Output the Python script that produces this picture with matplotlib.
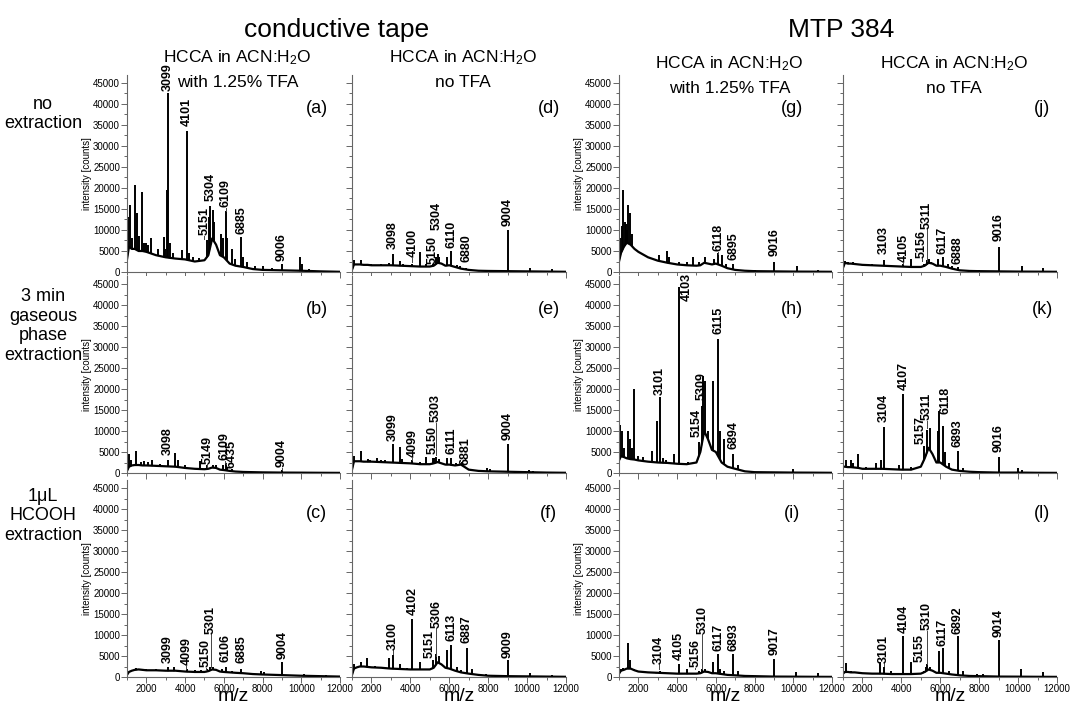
from __future__ import annotations

from typing import List, Optional, Tuple

import matplotlib
matplotlib.use("Agg")
import matplotlib.pyplot as plt
from matplotlib.ticker import MultipleLocator

plt.rcParams.update({
    "font.family": ["Liberation Sans", "DejaVu Sans"],
    "mathtext.fontset": "custom",
    "mathtext.rm": "Liberation Sans",
    "mathtext.it": "Liberation Sans:italic",
    "mathtext.default": "regular",
})

Peak = Tuple[int, int]
Label = Tuple[str, int, int, Optional[int]]

# m/z grid for the smooth background of every spectrum
BASE_MZ = [1000, 1100, 1250, 1400, 1600, 1800, 2000, 2500, 3000, 3500, 4000, 4500, 5000,
           5200, 5400, 5600, 5800, 6000, 6300, 6600, 7000, 7500, 8000, 9000, 10000, 11000, 12000]

# ---- conductive tape, HCCA with 1.25% TFA ----
A_BASE = [3000, 6000, 5500, 5500, 5000, 5000, 4800, 4000, 3500, 3200, 3000, 2500, 2800,
          4000, 8000, 6500, 4000, 3500, 2000, 1500, 1200, 700, 500, 400, 300, 150, 50]
A_PEAKS: List[Peak] = [(1000, 22500), (1060, 13000), (1140, 16000), (1250, 8000), (1430, 20800),
                       (1520, 14000), (1600, 8500), (1770, 19000), (1900, 7000), (2000, 6800),
                       (2100, 6500), (2250, 8000), (2600, 5500), (2890, 8300), (2980, 5500),
                       (3060, 19500), (3099, 42500), (3200, 7000), (3400, 4500), (3830, 5200),
                       (4101, 33500), (4200, 4500), (4400, 3500), (4700, 3300), (5151, 7500),
                       (5250, 13000), (5304, 15800), (5420, 14700), (5480, 12000), (5860, 9000),
                       (5950, 8000), (6109, 14500), (6170, 8000), (6410, 5500), (6600, 3000),
                       (6885, 8300), (7000, 3500), (7200, 2500), (7600, 1500), (8000, 1500),
                       (8500, 1000), (9006, 1800), (9940, 3500), (10050, 2000), (10400, 800)]
A_LABELS: List[Label] = [("3099", 3099, 43000, None), ("4101", 4101, 34800, None),
                         ("5151", 5000, 8700, 7800), ("5304", 5330, 16800, None),
                         ("6109", 6109, 15500, 14600), ("6885", 6900, 9000, None),
                         ("9006", 9006, 2700, None)]

B_BASE = [500, 1500, 1800, 1900, 1900, 1800, 1800, 1700, 1600, 1500, 1200, 1000, 900,
          1000, 1300, 1200, 800, 700, 500, 350, 250, 200, 150, 100, 80, 50, 30]
B_PEAKS: List[Peak] = [(1120, 4600), (1200, 3000), (1460, 5300), (1700, 2600), (1900, 2800),
                       (2100, 2600), (2300, 3000), (2700, 2200), (3098, 3000), (3470, 4700),
                       (3610, 3000), (4000, 1800), (4780, 2800), (5149, 2000), (5420, 2000),
                       (5600, 1800), (5980, 2000), (6109, 1800), (6190, 1500), (6435, 900),
                       (9004, 700)]
B_LABELS: List[Label] = [("3098", 3098, 4200, None), ("5149", 5149, 2200, 1500),
                         ("6109", 6060, 3000, 2000), ("6435", 6400, 1300, None),
                         ("9004", 9004, 1400, 800)]

C_BASE = [500, 1200, 1500, 1700, 1800, 1700, 1600, 1600, 1500, 1500, 1300, 1200, 1200,
          1400, 1800, 1700, 1300, 1200, 1100, 1000, 900, 700, 600, 450, 300, 200, 100]
C_PEAKS: List[Peak] = [(1450, 2200), (2000, 1900), (2500, 1900), (3099, 2500), (3450, 2500),
                       (4099, 1800), (4500, 1600), (4800, 1600), (5150, 2000), (5301, 2500),
                       (5450, 2500), (5900, 1800), (6106, 2500), (6400, 1500), (6885, 2000),
                       (7900, 1500), (8100, 1100), (9004, 3500), (10150, 800), (11300, 400)]
C_LABELS: List[Label] = [("3099", 3099, 3300, None), ("4099", 4060, 2800, 2000),
                         ("5150", 5080, 2400, 1700), ("5301", 5340, 10300, 2500),
                         ("6106", 6106, 3600, None), ("6885", 6900, 3300, None),
                         ("9004", 9040, 4400, None)]

# ---- conductive tape, HCCA without TFA ----
D_BASE = [500, 1800, 1800, 1800, 1700, 1700, 1600, 1600, 1600, 1500, 1400, 1300, 1300,
          1500, 2200, 2000, 1500, 1600, 1200, 800, 500, 300, 250, 200, 150, 100, 50]
D_PEAKS: List[Peak] = [(1120, 2800), (1460, 2800), (2000, 2000), (2500, 2000), (2900, 2200),
                       (3098, 4300), (3460, 2600), (3600, 2000), (4100, 1800), (4490, 4800),
                       (4800, 1800), (5150, 2000), (5304, 3500), (5400, 4200), (5480, 3500),
                       (5900, 3600), (6110, 5100), (6400, 1600), (6550, 1400), (6880, 1000),
                       (7950, 500), (9004, 10000), (10170, 1000), (11300, 700)]
D_LABELS: List[Label] = [("3098", 3098, 5400, None), ("4100", 4100, 3500, 2500),
                         ("5150", 5150, 1900, None), ("5304", 5350, 10000, None),
                         ("6110", 6110, 5800, None), ("6880", 6880, 2400, None),
                         ("9004", 9004, 11000, None)]

E_BASE = [800, 2800, 2800, 2800, 2700, 2700, 2700, 2600, 2500, 2400, 2300, 2100, 2100,
          2300, 2600, 2300, 2000, 2000, 1800, 2000, 800, 500, 400, 300, 200, 100, 50]
E_PEAKS: List[Peak] = [(1120, 4100), (1460, 5300), (1800, 3300), (1950, 3200), (2260, 3600),
                       (2500, 3000), (2700, 3200), (3099, 7000), (3460, 6200), (3580, 3300),
                       (4099, 3200), (4500, 2700), (4810, 3800), (5150, 3500), (5230, 3600),
                       (5303, 3800), (5470, 3300), (5900, 3500), (6111, 3500), (6330, 2300),
                       (6650, 2600), (7960, 1100), (8100, 900), (9004, 6800), (10100, 800),
                       (10300, 500), (11300, 300)]
E_LABELS: List[Label] = [("3099", 3099, 7700, None), ("4099", 4099, 3800, 3100),
                         ("5150", 5150, 4600, None), ("5303", 5303, 12100, 4300),
                         ("6111", 6111, 4600, None), ("6881", 6850, 2000, None),
                         ("9004", 9004, 7800, None)]

F_BASE = [500, 2000, 2300, 2500, 2500, 2400, 2300, 2200, 2000, 1900, 1800, 1800, 1800,
          2200, 3500, 3000, 2200, 2000, 1500, 1100, 800, 500, 300, 200, 150, 100, 50]
F_PEAKS: List[Peak] = [(1120, 3000), (1460, 3500), (1780, 4600), (2200, 2600), (2600, 2500),
                       (2920, 4500), (3100, 5300), (3450, 3000), (3850, 2200), (4102, 13900),
                       (4510, 3500), (5160, 4000), (5300, 5500), (5450, 5000), (5900, 6500),
                       (6113, 7700), (6400, 2500), (6600, 1600), (6887, 7000), (7150, 2000),
                       (7900, 600), (8200, 500), (9009, 4000), (10150, 900), (11300, 500)]
F_LABELS: List[Label] = [("3100", 3100, 6500, 5400), ("4102", 4102, 14800, None),
                         ("5151", 5000, 4500, None), ("5306", 5330, 11700, 5000),
                         ("6113", 6113, 8500, None), ("6887", 6887, 8100, None),
                         ("9009", 9009, 4500, None)]

# ---- MTP 384, HCCA with 1.25% TFA ----
G_BASE = [2500, 4500, 6000, 7000, 6500, 5500, 4800, 3500, 2700, 2200, 1800, 1600, 1500,
          1600, 2200, 2000, 1800, 2000, 1500, 900, 500, 300, 200, 150, 100, 80, 50]
G_PEAKS: List[Peak] = [(1070, 8000), (1140, 11000), (1220, 19500), (1290, 12000), (1340, 11500),
                       (1420, 10000), (1480, 16000), (1560, 14000), (1650, 9000), (1800, 4500),
                       (1900, 4500), (2000, 4200), (2250, 3000), (2450, 3200), (3080, 4000),
                       (3460, 5000), (3600, 3500), (4110, 2500), (4500, 2300), (4830, 3500),
                       (5120, 2500), (5430, 3500), (5900, 3000), (6118, 4500), (6330, 4000),
                       (6500, 2000), (6895, 2000), (8000, 500), (9016, 2500), (10190, 1500),
                       (11300, 500)]
G_LABELS: List[Label] = [("6118", 6118, 5000, 4300), ("6895", 6895, 2900, None),
                         ("9016", 9016, 3700, None)]

H_BASE = [3000, 4000, 3800, 3500, 3300, 3200, 3000, 2700, 2500, 2400, 2200, 2100, 2500,
          5000, 10000, 8000, 5500, 5000, 2500, 1500, 1000, 400, 200, 150, 100, 80, 50]
H_PEAKS: List[Peak] = [(1050, 11500), (1170, 10000), (1250, 6000), (1450, 10000), (1570, 8000),
                       (1690, 6000), (1790, 20000), (2000, 4000), (2250, 3800), (2730, 5200),
                       (2940, 12500), (3101, 18000), (3250, 3500), (3420, 3200), (3850, 4600),
                       (4103, 44200), (4580, 2700), (5154, 7500), (5280, 16000), (5330, 23000),
                       (5450, 22000), (5610, 10000), (5860, 22000), (6115, 32000), (6200, 10000),
                       (6420, 8000), (6894, 4500), (7150, 2000), (9990, 1000)]
H_LABELS: List[Label] = [("3101", 3101, 18600, None), ("4103", 4520, 41000, None),
                         ("5154", 5000, 8600, None), ("5309", 5260, 17400, None),
                         ("6115", 6115, 33000, None), ("6894", 6894, 5800, None)]

I_BASE = [800, 1500, 1700, 2000, 2000, 1600, 1300, 1100, 1000, 900, 800, 800, 800,
          900, 1300, 1200, 900, 900, 700, 500, 400, 250, 200, 100, 80, 50, 30]
I_PEAKS: List[Peak] = [(1100, 2000), (1200, 2200), (1460, 8100), (1550, 4000), (1760, 2000),
                       (2900, 1200), (3104, 1500), (3450, 1000), (4105, 3000), (4490, 2000),
                       (5156, 1500), (5310, 2000), (5450, 2000), (5860, 3500), (6117, 5400),
                       (6200, 2000), (6400, 1500), (6893, 5500), (7150, 1500), (9017, 4400),
                       (10150, 1200), (11300, 1000)]
I_LABELS: List[Label] = [("3104", 3060, 3200, 2000), ("4105", 4105, 4100, None),
                         ("5156", 4950, 2400, 1800), ("5310", 5300, 10300, 2000),
                         ("6117", 6117, 6300, None), ("6893", 6893, 6300, None),
                         ("9017", 9017, 5200, None)]

# ---- MTP 384, HCCA without TFA ----
J_BASE = [1000, 2200, 2000, 2000, 1900, 1800, 1700, 1600, 1500, 1400, 1300, 1200, 1200,
          1500, 2200, 2000, 1500, 1500, 1200, 800, 400, 250, 200, 150, 100, 80, 50]
J_PEAKS: List[Peak] = [(1100, 2700), (1250, 2500), (1500, 2300), (2000, 2000), (2500, 1900),
                       (3103, 2800), (3450, 1700), (4105, 2000), (4520, 3000), (5156, 2000),
                       (5311, 2800), (5400, 3000), (5500, 2500), (5900, 3000), (6117, 3500),
                       (6400, 2000), (6600, 1500), (6888, 1200), (8000, 400), (9016, 6000),
                       (10190, 1500), (11300, 1000)]
J_LABELS: List[Label] = [("3103", 3103, 4200, None), ("4105", 4105, 2300, 1800),
                         ("5156", 5050, 3400, 2600), ("5311", 5311, 10300, 2600),
                         ("6117", 6117, 4200, None), ("6888", 6888, 1800, None),
                         ("9016", 9016, 7400, None)]

K_BASE = [1500, 1500, 1400, 1400, 1300, 1200, 1000, 1000, 1000, 900, 800, 800, 1500,
          3500, 6000, 4500, 2500, 2500, 1500, 800, 500, 300, 200, 100, 100, 50, 30]
K_PEAKS: List[Peak] = [(1000, 7500), (1170, 3000), (1430, 3200), (1520, 2500), (1770, 4500),
                       (2200, 1500), (2720, 2500), (2940, 3200), (3104, 11000), (3870, 1800),
                       (4107, 18900), (4520, 1500), (5157, 6400), (5300, 10200), (5470, 10600),
                       (5900, 10000), (5950, 14800), (6118, 11300), (6240, 5000), (6460, 2500),
                       (6893, 5300), (7190, 1200), (7900, 500), (9016, 3900), (10020, 1200),
                       (10200, 800)]
K_LABELS: List[Label] = [("3104", 3104, 12200, None), ("4107", 4107, 19700, None),
                         ("5157", 5000, 7000, None), ("5311", 5300, 12500, 10800),
                         ("6118", 6250, 14000, None), ("6893", 6893, 6200, None),
                         ("9016", 9016, 5000, None)]

L_BASE = [800, 1200, 1200, 1100, 1100, 1000, 900, 800, 800, 700, 700, 700, 800,
          1200, 1800, 1500, 1000, 1000, 800, 600, 400, 250, 200, 100, 80, 50, 30]
L_PEAKS: List[Peak] = [(1140, 3400), (1400, 1500), (1800, 1200), (2920, 3500), (3101, 2500),
                       (3450, 1500), (4104, 9700), (4510, 3600), (5155, 1500), (5250, 2500),
                       (5310, 3000), (5450, 2500), (5930, 6300), (6117, 6800), (6450, 1500),
                       (6892, 9700), (7150, 1500), (7900, 800), (8200, 800), (9014, 8700),
                       (10150, 2000), (11300, 1200)]
L_LABELS: List[Label] = [("3101", 3101, 3400, 2600), ("4104", 4104, 10500, None),
                         ("5155", 4950, 3600, None), ("5310", 5300, 11100, 3000),
                         ("6117", 6117, 7500, None), ("6892", 6892, 10300, None),
                         ("9014", 9014, 9500, None)]

PANELS = {
    "a": (0, 0, A_BASE, A_PEAKS, A_LABELS),
    "b": (1, 0, B_BASE, B_PEAKS, B_LABELS),
    "c": (2, 0, C_BASE, C_PEAKS, C_LABELS),
    "d": (0, 1, D_BASE, D_PEAKS, D_LABELS),
    "e": (1, 1, E_BASE, E_PEAKS, E_LABELS),
    "f": (2, 1, F_BASE, F_PEAKS, F_LABELS),
    "g": (0, 2, G_BASE, G_PEAKS, G_LABELS),
    "h": (1, 2, H_BASE, H_PEAKS, H_LABELS),
    "i": (2, 2, I_BASE, I_PEAKS, I_LABELS),
    "j": (0, 3, J_BASE, J_PEAKS, J_LABELS),
    "k": (1, 3, K_BASE, K_PEAKS, K_LABELS),
    "l": (2, 3, L_BASE, L_PEAKS, L_LABELS),
}

ROW_LABELS = ["no\nextraction", "3 min\ngaseous\nphase\nextraction", "1\u03bcL\nHCOOH\nextraction"]
COL_TITLES = ["HCCA in ACN:H$_2$O\nwith 1.25% TFA", "HCCA in ACN:H$_2$O\nno TFA",
              "HCCA in ACN:H$_2$O\nwith 1.25% TFA", "HCCA in ACN:H$_2$O\nno TFA"]
GROUP_TITLES = ["conductive tape", "MTP 384"]

# layout in pixels of the 1070x707 canvas
W, H = 1070, 707
COL_LEFT = [127, 352, 619, 843]
COL_WIDTH = [213, 214, 213, 214]
ROW_BOTTOM = [272, 473, 677]
AX_HEIGHT = 197.4
LETTER_X = [0.89, 0.92, 0.81, 0.93]
ROW_LABEL_Y = [114, 326, 516]
SPINE = "#666666"


def _fx(px: float) -> float:
    return px / W


def _fy(py: float) -> float:
    return 1.0 - py / H


def _draw_panel(fig, letter: str) -> None:
    row, col, base, peaks, labels = PANELS[letter]
    rect = [_fx(COL_LEFT[col]), _fy(ROW_BOTTOM[row]), _fx(COL_WIDTH[col]), AX_HEIGHT / H]
    ax = fig.add_axes(rect)

    mz = [p[0] for p in peaks]
    top = [p[1] for p in peaks]
    ax.vlines(mz, 0, top, color="black", linewidth=1.4, zorder=1)
    # hide the stems below the background trace
    ax.fill_between(BASE_MZ, 0, base, color="white", linewidth=0, zorder=1.5)
    ax.plot(BASE_MZ, base, color="black", linewidth=1.6, zorder=2)

    for txt, x, y, leader_to in labels:
        if leader_to is not None:
            ax.plot([x, x], [leader_to, y - 150], color="#444444", linewidth=0.7, zorder=2)
        ax.text(x, y, txt, rotation=90, ha="center", va="bottom", fontsize=9,
                fontweight="bold", clip_on=False, zorder=3)

    ax.set_xlim(1000, 12000)
    ax.set_ylim(0, 47000)
    ax.xaxis.set_major_locator(MultipleLocator(2000))
    ax.xaxis.set_minor_locator(MultipleLocator(1000))
    ax.yaxis.set_major_locator(MultipleLocator(5000))
    ax.yaxis.set_minor_locator(MultipleLocator(2500))

    for side in ("top", "right"):
        ax.spines[side].set_visible(False)
    for side in ("left", "bottom"):
        ax.spines[side].set_color(SPINE)
        ax.spines[side].set_linewidth(0.8)
    ax.tick_params(which="both", direction="out", color=SPINE, width=0.7, labelsize=7, pad=1)
    ax.tick_params(which="major", length=4)
    ax.tick_params(which="minor", length=2)

    if col in (0, 2):
        ax.set_ylabel("intensity [counts]", fontsize=7, labelpad=1)
    else:
        ax.tick_params(labelleft=False)
    if row < 2:
        ax.tick_params(labelbottom=False)
    else:
        ax.set_xlabel("m/z", fontsize=14, labelpad=-4)

    ax.text(LETTER_X[col], 0.83, f"({letter})", transform=ax.transAxes, ha="center",
            va="center", fontsize=13)


def main() -> int:
    fig = plt.figure(figsize=(W / 100, H / 100), dpi=100)

    for letter in PANELS:
        _draw_panel(fig, letter)

    for label, yc in zip(ROW_LABELS, ROW_LABEL_Y):
        fig.text(_fx(43), _fy(yc), label, ha="center", va="center", multialignment="center",
                 fontsize=13, linespacing=1.2)

    title_base = [62, 62, 68, 68]
    for col, title in enumerate(COL_TITLES):
        xc = COL_LEFT[col] + COL_WIDTH[col] / 2 + 4
        line1, line2 = title.split("\n")
        fig.text(_fx(xc), _fy(title_base[col]), line1, ha="center", va="baseline", fontsize=12.5)
        fig.text(_fx(xc), _fy(title_base[col] + 25), line2, ha="center", va="baseline", fontsize=12.5)

    fig.text(_fx(337), _fy(37), GROUP_TITLES[0], ha="center", va="baseline", fontsize=19)
    fig.text(_fx(841), _fy(37), GROUP_TITLES[1], ha="center", va="baseline", fontsize=19)

    fig.savefig("out.png", dpi=100)
    plt.close(fig)
    return 0


if __name__ == "__main__":
    raise SystemExit(main())
